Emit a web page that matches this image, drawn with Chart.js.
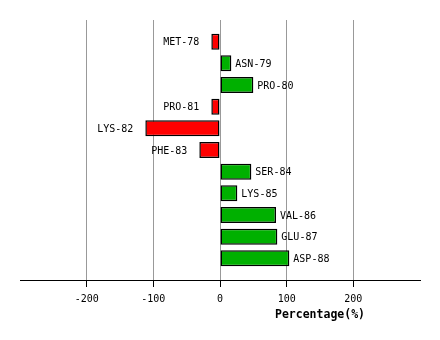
<!DOCTYPE html>
<html lang="en">
<head>
    <meta charset="UTF-8">
    <title>Percentage by residue</title>
    <script src="https://cdn.jsdelivr.net/npm/chart.js"></script>
    <style>
        html, body { margin: 0; padding: 0; background: #fff; }
        #wrap { width: 440px; height: 340px; }
    </style>
</head>
<body>
    <div id="wrap"><canvas id="chart" width="440" height="340"></canvas></div>
    <script>
        const residues = ['MET-78', 'ASN-79', 'PRO-80', 'PRO-81', 'LYS-82', 'PHE-83',
                          'SER-84', 'LYS-85', 'VAL-86', 'GLU-87', 'ASP-88'];
        const percentages = [-13, 17, 50, -13, -112, -31, 47, 26, 84, 86, 104];
        const tickValues = [-200, -100, 0, 100, 200];
        const axisTitle = 'Percentage(%)';

        const mono = 'DejaVu Sans Mono';

        // blank slot above and below so the rows sit a full step in from the edges
        const labels = [''].concat(residues, ['']);
        const values = [null].concat(percentages, [null]);

        // residue names next to the bar ends
        const barLabels = {
            id: 'barLabels',
            afterDatasetsDraw(chart) {
                const ctx = chart.ctx;
                const meta = chart.getDatasetMeta(0);
                ctx.save();
                ctx.font = '10px "' + mono + '"';
                ctx.fillStyle = '#000';
                ctx.textBaseline = 'middle';
                meta.data.forEach((bar, i) => {
                    const v = values[i];
                    if (v === null) return;
                    if (v < 0) {
                        ctx.textAlign = 'right';
                        ctx.fillText(labels[i], bar.x - 12, bar.y + 1);
                    } else {
                        ctx.textAlign = 'left';
                        ctx.fillText(labels[i], bar.x + 4, bar.y + 1);
                    }
                });
                ctx.restore();
            }
        };

        // x axis title, set under the positive side
        const xTitle = {
            id: 'xTitle',
            afterDraw(chart) {
                const ctx = chart.ctx;
                const x = chart.scales.x.getPixelForValue(150);
                ctx.save();
                ctx.font = 'bold 11.5px "' + mono + '"';
                ctx.fillStyle = '#000';
                ctx.textAlign = 'center';
                ctx.textBaseline = 'middle';
                ctx.fillText(axisTitle, x, 315);
                ctx.restore();
            }
        };

        new Chart(document.getElementById('chart'), {
            type: 'bar',
            data: {
                labels: labels,
                datasets: [{
                    data: values,
                    backgroundColor: values.map(v => v < 0 ? '#ff0000' : '#00b000'),
                    borderColor: '#000',
                    borderWidth: 1.5,
                    borderSkipped: false,
                    inflateAmount: 0,
                    categoryPercentage: 1,
                    barPercentage: 0.74
                }]
            },
            options: {
                indexAxis: 'y',
                responsive: false,
                animation: false,
                layout: { padding: { left: 20, right: 20, top: 20, bottom: 0 } },
                plugins: {
                    legend: { display: false },
                    tooltip: { enabled: false }
                },
                scales: {
                    x: {
                        type: 'linear',
                        min: -300,
                        max: 300,
                        afterBuildTicks(scale) {
                            scale.ticks = tickValues.map(v => ({ value: v }));
                        },
                        afterFit(scale) {
                            scale.height = 60;
                        },
                        grid: {
                            color: '#999',
                            lineWidth: 1,
                            tickColor: '#000',
                            tickLength: 7
                        },
                        border: { display: true, color: '#000', width: 1 },
                        ticks: {
                            color: '#000',
                            padding: 6,
                            maxRotation: 0,
                            font: { family: mono, size: 10 }
                        }
                    },
                    y: {
                        type: 'category',
                        display: false,
                        offset: false
                    }
                }
            },
            plugins: [barLabels, xTitle]
        });
    </script>
</body>
</html>
